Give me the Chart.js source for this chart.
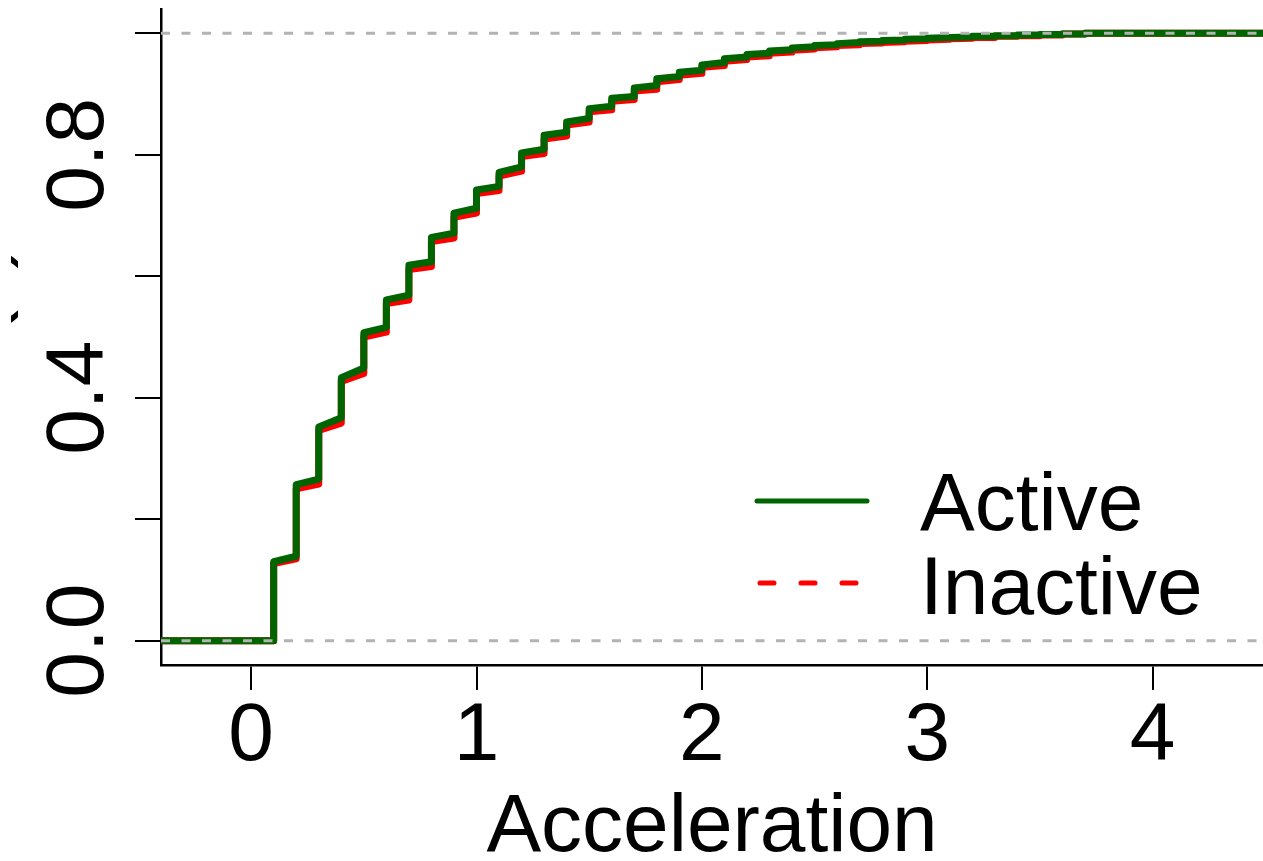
<!DOCTYPE html>
<html>
<head>
<meta charset="utf-8">
<script src="https://cdn.jsdelivr.net/npm/chart.js@4"></script>
<style>
  body { margin: 0; background: #fff; overflow: hidden; }
</style>
</head>
<body>
<canvas id="ecdfChart" width="1263" height="861"></canvas>
<script>
// ECDF of acceleration, steps every 0.1
const stepX = [0.1, 0.2, 0.3, 0.4, 0.5, 0.6, 0.7, 0.8, 0.9, 1.0,
               1.1, 1.2, 1.3, 1.4, 1.5, 1.6, 1.7, 1.8, 1.9, 2.0,
               2.1, 2.2, 2.3, 2.4, 2.5, 2.6, 2.7, 2.8, 2.9, 3.0,
               3.1, 3.2, 3.3, 3.4, 3.5, 3.6, 3.7];

// level right after each step and just before the next one
const activeStart = [0.130, 0.257, 0.352, 0.433, 0.507, 0.561, 0.618, 0.664, 0.704, 0.742,
                     0.771, 0.803, 0.832, 0.854, 0.876, 0.893, 0.910, 0.925, 0.936, 0.948,
                     0.958, 0.965, 0.971, 0.976, 0.980, 0.983, 0.986, 0.988, 0.990, 0.992,
                     0.993, 0.995, 0.996, 0.997, 0.998, 0.999, 1.000];
const activeEnd   = [0.139, 0.266, 0.367, 0.449, 0.516, 0.569, 0.624, 0.671, 0.712, 0.748,
                     0.780, 0.809, 0.837, 0.860, 0.880, 0.896, 0.914, 0.929, 0.939, 0.952,
                     0.961, 0.967, 0.973, 0.978, 0.981, 0.985, 0.987, 0.989, 0.991, 0.993,
                     0.994, 0.995, 0.996, 0.997, 0.998, 0.999, 1.000];
const inactiveStart = [0.127, 0.250, 0.346, 0.427, 0.500, 0.555, 0.611, 0.657, 0.697, 0.736,
                       0.765, 0.797, 0.826, 0.849, 0.871, 0.888, 0.905, 0.920, 0.931, 0.944,
                       0.954, 0.961, 0.967, 0.972, 0.976, 0.980, 0.983, 0.985, 0.987, 0.989,
                       0.991, 0.993, 0.995, 0.996, 0.997, 0.999, 1.000];
const inactiveEnd   = [0.135, 0.258, 0.358, 0.440, 0.508, 0.561, 0.616, 0.663, 0.704, 0.741,
                       0.773, 0.802, 0.831, 0.854, 0.874, 0.891, 0.908, 0.924, 0.934, 0.947,
                       0.957, 0.963, 0.969, 0.974, 0.978, 0.981, 0.984, 0.986, 0.988, 0.990,
                       0.992, 0.993, 0.995, 0.996, 0.997, 0.999, 1.000];

const xTicks = [0, 1, 2, 3, 4];
const yTicks = [0, 0.2, 0.4, 0.6, 0.8, 1.0];
const yLabels = [0, 0.4, 0.8];
const refLines = [0, 1];
const xMin = -0.4, xMax = 4.49;
const yMin = -0.04, yMax = 1.04;

const FONT = '"Liberation Sans", Arial, sans-serif';
const FSIZE = 82;

// step function points: flat at 0, then each plateau up to the next step
function ecdfPoints(starts, ends) {
    const pts = [{x: xMin, y: 0}, {x: stepX[0], y: 0}];
    for (let i = 0; i < stepX.length; i++) {
        pts.push({x: stepX[i], y: starts[i]});
        if (i + 1 < stepX.length) pts.push({x: stepX[i + 1], y: ends[i]});
    }
    pts.push({x: xMax + 0.1, y: ends[ends.length - 1]});
    return pts;
}

const refSets = refLines.map(v => ({
    data: [{x: xMin, y: v}, {x: xMax + 0.1, y: v}],
    borderColor: "#b3b3b3",
    borderWidth: 3,
    borderDash: [9, 11.5],
    pointRadius: 0,
    order: -1
}));

const overlay = {
    id: "overlay",
    afterDraw(chart) {
        const ctx = chart.ctx;
        const area = chart.chartArea;
        const ys = chart.scales.y;
        ctx.save();
        ctx.fillStyle = "#000";
        ctx.font = FSIZE + "px " + FONT;
        ctx.textAlign = "center";
        ctx.textBaseline = "alphabetic";
        // rotated y tick labels
        yLabels.forEach(v => {
            ctx.save();
            ctx.translate(area.left - 58, ys.getPixelForValue(v));
            ctx.rotate(-Math.PI / 2);
            ctx.fillText(v.toFixed(1), 0, 0);
            ctx.restore();
        });
        // y title, mostly outside the picture
        ctx.save();
        ctx.beginPath();
        ctx.rect(11, 0, 30, chart.height);
        ctx.clip();
        ctx.translate(1, (area.top + area.bottom) / 2);
        ctx.rotate(-Math.PI / 2);
        ctx.fillText("Fn(x)", 0, 0);
        ctx.restore();

        // legend
        const lx = area.right - 506;
        ctx.lineCap = "round";
        ctx.lineWidth = 5;
        ctx.strokeStyle = "#006400";
        ctx.beginPath();
        ctx.moveTo(lx, 501); ctx.lineTo(lx + 110, 501);
        ctx.stroke();
        ctx.strokeStyle = "#ff0000";
        ctx.setLineDash([14, 27]);
        ctx.beginPath();
        ctx.moveTo(lx + 3, 583); ctx.lineTo(lx + 105, 583);
        ctx.stroke();
        ctx.setLineDash([]);
        ctx.textAlign = "left";
        ctx.fillText("Active", lx + 163, 530);
        ctx.fillText("Inactive", lx + 163, 614);
        ctx.restore();
    }
};

new Chart(document.getElementById("ecdfChart"), {
    type: "line",
    data: {
        datasets: [{
            label: "Active",
            data: ecdfPoints(activeStart, activeEnd),
            borderColor: "#006400",
            borderWidth: 7,
            borderCapStyle: "round",
            borderJoinStyle: "round",
            pointRadius: 0,
            order: 0
        }, {
            label: "Inactive",
            data: ecdfPoints(inactiveStart, inactiveEnd),
            borderColor: "#ff0000",
            borderWidth: 7,
            borderCapStyle: "round",
            borderJoinStyle: "round",
            pointRadius: 0,
            order: 1
        }].concat(refSets)
    },
    options: {
        responsive: false,
        animation: false,
        layout: { padding: { top: 9, right: 0, left: 0, bottom: 0 } },
        plugins: { legend: { display: false }, tooltip: { enabled: false } },
        scales: {
            x: {
                type: "linear",
                min: xMin,
                max: xMax,
                afterBuildTicks: s => { s.ticks = xTicks.map(v => ({value: v})); },
                afterFit: s => { s.height = 196; },
                border: { display: true, color: "#000", width: 2.5 },
                grid: { drawOnChartArea: false, color: "#000", lineWidth: 2, tickLength: 25 },
                ticks: { color: "#000", font: { family: FONT, size: FSIZE }, padding: -2, maxRotation: 0 },
                title: {
                    display: true,
                    text: "Acceleration",
                    color: "#000",
                    font: { family: FONT, size: FSIZE },
                    padding: { top: 0, bottom: -17 }
                }
            },
            y: {
                min: yMin,
                max: yMax,
                afterBuildTicks: s => { s.ticks = yTicks.map(v => ({value: v})); },
                afterFit: s => { s.width = 161; },
                border: { display: true, color: "#000", width: 2.5 },
                grid: { drawOnChartArea: false, color: "#000", lineWidth: 2, tickLength: 26 },
                ticks: { display: false }
            }
        }
    },
    plugins: [overlay]
});
</script>
</body>
</html>
